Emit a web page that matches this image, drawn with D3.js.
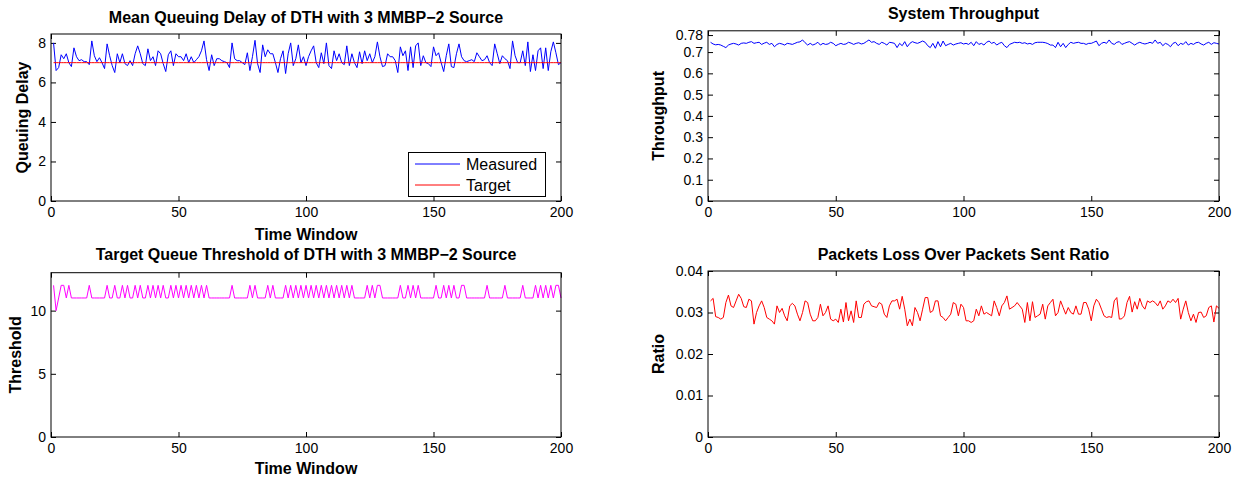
<!DOCTYPE html>
<html>
<head>
<meta charset="utf-8">
<script src="https://cdn.jsdelivr.net/npm/d3@7"></script>
<style>
body { margin: 0; background: #fff; }
svg text { font-family: "Liberation Sans", Arial, Helvetica, sans-serif; fill: #000; }
.tick text { font-size: 14px; }
.title, .alabel { font-weight: bold; font-size: 16px; }
.legend text { font-size: 16px; }
</style>
</head>
<body>
<div id="vis"></div>
<script>
// tick labels
var xTicks = [0, 50, 100, 150, 200],
    delayTicks = [0, 2, 4, 6, 8],
    thrTicks = [0, 0.1, 0.2, 0.3, 0.4, 0.5, 0.6, 0.7, 0.78],
    threshTicks = [0, 5, 10],
    ratioTicks = [0, 0.01, 0.02, 0.03, 0.04];

// mean queuing delay, time window 1..200
var measured = [
  8.0, 6.6, 6.75, 7.4, 7.2, 7.45, 7.0, 6.8, 7.75, 7.3,
  7.1, 7.15, 7.05, 7.05, 6.9, 8.1, 7.35, 7.05, 7.25, 7.0,
  6.7, 7.95, 7.35, 6.85, 6.5, 7.45, 7.0, 7.45, 6.95, 6.85,
  7.1, 6.85, 7.45, 7.85, 7.45, 6.95, 6.85, 7.7, 7.1, 7.3,
  6.85, 7.6, 7.45, 6.95, 6.55, 7.4, 7.6, 6.85, 7.45, 7.3,
  7.3, 7.1, 7.45, 7.0, 7.3, 7.0, 7.15, 7.3, 7.6, 8.1,
  7.15, 6.6, 7.4, 6.85, 7.2, 7.2, 7.1, 7.05, 7.0, 6.75,
  8.0, 7.2, 7.1, 7.1, 7.0, 6.9, 7.5, 6.6, 7.3, 8.13,
  6.95, 6.5, 7.9, 7.3, 7.65, 7.45, 7.45, 7.0, 6.5, 7.2,
  7.6, 6.45, 7.45, 8.0, 6.85, 7.2, 7.9, 7.0, 7.3, 6.85,
  7.3, 7.6, 7.85, 7.0, 6.75, 7.5, 6.95, 8.0, 6.85, 6.7,
  7.6, 7.1, 7.45, 7.0, 6.9, 7.85, 6.85, 7.45, 7.0, 6.75,
  7.55, 6.95, 7.6, 7.1, 7.45, 7.0, 7.3, 8.05, 7.3, 6.8,
  6.85, 7.45, 7.3, 7.3, 7.1, 6.5, 7.8, 7.35, 7.6, 6.6,
  7.8, 6.75, 7.85, 8.0, 6.85, 7.35, 7.0, 6.95, 6.8, 7.8,
  7.35, 7.5, 7.0, 6.55, 7.35, 7.95, 6.8, 6.75, 7.45, 7.95,
  7.3, 7.1, 7.05, 7.1, 7.15, 7.05, 7.5, 7.3, 7.1, 7.15,
  7.35, 7.0, 6.85, 7.95, 7.45, 6.95, 7.35, 7.2, 7.1, 6.7,
  8.1, 7.35, 7.0, 7.0, 7.6, 6.85, 8.05, 6.55, 7.4, 6.6,
  7.6, 7.75, 6.7, 7.75, 6.6, 7.55, 8.05, 7.5, 6.9, 7.0
];
var targetDelay = 7.0;

// system throughput
var throughput = [
  .746, .738, .734, .736, .733, .727, .721, .733, .738, .741,
  .738, .733, .741, .743, .741, .746, .749, .741, .744, .746,
  .736, .742, .746, .736, .741, .725, .736, .741, .738, .733,
  .741, .739, .736, .741, .746, .748, .757, .744, .733, .741,
  .733, .738, .746, .733, .741, .736, .738, .746, .741, .730,
  .736, .741, .736, .738, .746, .742, .736, .741, .744, .738,
  .741, .749, .757, .746, .749, .741, .736, .746, .741, .733,
  .746, .744, .741, .721, .741, .730, .749, .725, .741, .749,
  .744, .741, .746, .752, .746, .730, .721, .741, .718, .749,
  .725, .752, .730, .736, .741, .733, .738, .741, .744, .738,
  .741, .736, .746, .730, .749, .736, .741, .733, .746, .752,
  .741, .746, .733, .741, .746, .730, .721, .736, .741, .746,
  .744, .746, .741, .744, .738, .741, .736, .744, .746, .746,
  .746, .744, .740, .733, .733, .721, .746, .725, .741, .721,
  .736, .746, .741, .744, .746, .741, .741, .736, .741, .741,
  .746, .752, .730, .741, .746, .741, .757, .741, .736, .746,
  .749, .736, .741, .746, .749, .741, .733, .741, .746, .741,
  .738, .741, .746, .741, .757, .741, .746, .730, .741, .736,
  .725, .741, .746, .730, .741, .736, .749, .733, .741, .736,
  .744, .746, .738, .733, .741, .746, .736, .744, .741, .738
];

// target queue threshold
var threshold = [
  12, 10, 11, 12, 12, 11, 12, 11, 11, 11,
  11, 11, 11, 11, 12, 11, 11, 11, 11, 11,
  11, 12, 11, 11, 12, 11, 11, 12, 11, 12,
  11, 11, 12, 11, 12, 11, 11, 12, 11, 12,
  11, 12, 11, 12, 11, 11, 12, 11, 12, 11,
  12, 11, 12, 11, 12, 11, 12, 11, 12, 11,
  12, 11, 11, 11, 11, 11, 11, 11, 11, 11,
  12, 11, 11, 11, 11, 11, 11, 12, 11, 12,
  11, 11, 11, 11, 12, 11, 12, 11, 11, 11,
  11, 12, 11, 12, 11, 12, 11, 12, 11, 12,
  11, 12, 11, 12, 11, 12, 11, 12, 11, 12,
  11, 12, 11, 12, 11, 12, 11, 12, 11, 11,
  11, 11, 11, 12, 11, 12, 11, 12, 12, 11,
  11, 11, 11, 11, 11, 11, 12, 11, 11, 12,
  11, 12, 11, 12, 11, 11, 11, 11, 11, 11,
  12, 11, 11, 12, 11, 12, 11, 12, 11, 11,
  12, 12, 11, 11, 11, 11, 11, 11, 11, 11,
  12, 11, 11, 11, 11, 11, 11, 12, 11, 11,
  11, 11, 11, 11, 12, 11, 11, 11, 11, 12,
  11, 12, 11, 12, 11, 12, 11, 12, 12, 11
];

// packets loss over packets sent
var lossRatio = [
  .0328, .0334, .0290, .0288, .0284, .0288, .0324, .0342, .0316, .0312,
  .0328, .0344, .0334, .0314, .0312, .0332, .0328, .0272, .0300, .0316,
  .0328, .0312, .0288, .0284, .0280, .0272, .0316, .0300, .0310, .0292,
  .0280, .0316, .0322, .0316, .0296, .0280, .0300, .0328, .0324, .0296,
  .0280, .0280, .0288, .0320, .0292, .0300, .0316, .0284, .0280, .0284,
  .0276, .0308, .0277, .0324, .0280, .0304, .0276, .0328, .0288, .0288,
  .0320, .0326, .0328, .0316, .0314, .0312, .0324,
  .0320, .0296, .0288, .0316, .0328, .0328, .0332, .0308, .0339, .0308,
  .0268, .0284, .0268, .0312, .0300, .0280, .0308, .0336, .0336, .0300,
  .0304, .0328, .0328, .0292, .0288, .0280, .0288, .0296, .0324, .0320,
  .0292, .0320, .0312, .0280, .0280, .0276, .0280, .0308, .0292, .0316,
  .0296, .0300, .0296, .0292, .0328, .0312, .0292, .0316, .0324, .0340,
  .0308, .0312, .0316, .0324, .0316, .0308, .0276, .0324, .0280, .0326,
  .0288, .0292, .0296, .0320, .0284, .0316, .0324, .0332,
  .0292, .0300, .0328, .0312, .0296, .0312, .0300, .0296, .0316, .0296,
  .0296, .0324, .0324, .0308, .0280, .0316, .0332, .0324, .0308, .0292,
  .0288, .0290, .0288, .0328, .0336, .0284, .0285, .0292, .0324, .0339,
  .0301, .0326, .0308, .0334, .0316, .0308, .0328, .0324, .0328, .0324,
  .0316, .0328, .0308, .0316, .0328, .0324, .0332, .0324, .0334, .0284,
  .0308, .0328, .0300, .0280, .0296, .0276, .0300, .0301, .0288, .0292,
  .0312, .0316, .0277, .0316, .0310
];

var w = 1249, h = 478;

var svg = d3.select("#vis")
    .append("svg")
    .attr("width", w)
    .attr("height", h);

function fmt(d) { return String(d); }

function drawPanel(p) {
    var x = d3.scaleLinear().domain([0, 200]).range([p.left, p.right]),
        y = d3.scaleLinear().domain(p.ydom).range([p.bottom, p.top]);
    var g = svg.append("g");

    // ticks on all four sides, pointing inwards (matlab style)
    g.append("g")
     .attr("transform", "translate(0," + p.bottom + ")")
     .call(d3.axisBottom(x).tickValues(xTicks).tickFormat(fmt)
           .tickSizeInner(-5).tickSizeOuter(0).tickPadding(6));
    g.append("g")
     .attr("transform", "translate(0," + p.top + ")")
     .call(d3.axisTop(x).tickValues(xTicks).tickFormat("")
           .tickSizeInner(-5).tickSizeOuter(0));
    g.append("g")
     .attr("transform", "translate(" + p.left + ",0)")
     .call(d3.axisLeft(y).tickValues(p.yticks).tickFormat(fmt)
           .tickSizeInner(-5).tickSizeOuter(0).tickPadding(5));
    g.append("g")
     .attr("transform", "translate(" + p.right + ",0)")
     .call(d3.axisRight(y).tickValues(p.yticks).tickFormat("")
           .tickSizeInner(-5).tickSizeOuter(0));
    g.selectAll(".domain").remove();
    g.selectAll(".tick line").attr("stroke", "#000");
    g.selectAll(".tick text").attr("font-size", null).attr("font-family", null);

    var line = d3.line()
        .x(function(d, i) { return x(i + 1); })
        .y(function(d) { return y(d); });

    p.series.forEach(function(s) {
        g.append("path")
         .datum(s.values)
         .attr("fill", "none")
         .attr("stroke", s.color)
         .attr("stroke-width", 1)
         .attr("d", line);
    });

    g.append("rect")
     .attr("x", p.left).attr("y", p.top)
     .attr("width", p.right - p.left).attr("height", p.bottom - p.top)
     .attr("fill", "none").attr("stroke", "#000").attr("stroke-width", 1);

    g.append("text").attr("class", "title")
     .attr("x", (p.left + p.right) / 2).attr("y", p.titleY)
     .attr("dy", "0.35em").attr("text-anchor", "middle")
     .text(p.title);

    g.append("text").attr("class", "alabel")
     .attr("transform", "translate(" + p.ylabelX + "," + ((p.top + p.bottom) / 2) + ") rotate(-90)")
     .attr("dy", "0.35em").attr("text-anchor", "middle")
     .text(p.ylabel);

    if (p.xlabel) {
        g.append("text").attr("class", "alabel")
         .attr("x", (p.left + p.right) / 2).attr("y", p.xlabelY)
         .attr("dy", "0.35em").attr("text-anchor", "middle")
         .text(p.xlabel);
    }
    return { x: x, y: y, g: g };
}

var p1 = drawPanel({
    left: 51, right: 561, top: 34, bottom: 201,
    ydom: [0, 8.45], yticks: delayTicks,
    title: "Mean Queuing Delay of DTH with 3 MMBP\u22122 Source", titleY: 17,
    ylabel: "Queuing Delay", ylabelX: 22,
    xlabel: "Time Window", xlabelY: 234,
    series: [
        { values: measured, color: "#0000ff" },
        { values: measured.map(function() { return targetDelay; }), color: "#ff0000" }
    ]
});

drawPanel({
    left: 708, right: 1219, top: 30.8, bottom: 201,
    ydom: [0, 0.8], yticks: thrTicks,
    title: "System Throughput", titleY: 13,
    ylabel: "Throughput", ylabelX: 658,
    series: [{ values: throughput, color: "#0000ff" }]
});

drawPanel({
    left: 51, right: 561, top: 272.7, bottom: 437,
    ydom: [0, 13], yticks: threshTicks,
    title: "Target Queue Threshold of DTH with 3 MMBP\u22122 Source", titleY: 254,
    ylabel: "Threshold", ylabelX: 15,
    xlabel: "Time Window", xlabelY: 468,
    series: [{ values: threshold, color: "#ff00ff" }]
});

drawPanel({
    left: 708, right: 1219, top: 271, bottom: 437,
    ydom: [0, 0.04], yticks: ratioTicks,
    title: "Packets Loss Over Packets Sent Ratio", titleY: 254,
    ylabel: "Ratio", ylabelX: 658,
    series: [{ values: lossRatio, color: "#ff0000" }]
});

// legend of the delay panel
var legendItems = [
    { name: "Measured", color: "#0000ff" },
    { name: "Target", color: "#ff0000" }
];
var lg = p1.g.append("g").attr("class", "legend");
lg.append("rect")
  .attr("x", 408.5).attr("y", 152.5).attr("width", 137).attr("height", 44)
  .attr("fill", "#fff").attr("stroke", "#000");
legendItems.forEach(function(d, i) {
    var yy = 164 + i * 21;
    lg.append("line")
      .attr("x1", 415).attr("x2", 460).attr("y1", yy).attr("y2", yy)
      .attr("stroke", d.color);
    lg.append("text")
      .attr("x", 466).attr("y", yy).attr("dy", "0.35em")
      .text(d.name);
});
</script>
</body>
</html>
